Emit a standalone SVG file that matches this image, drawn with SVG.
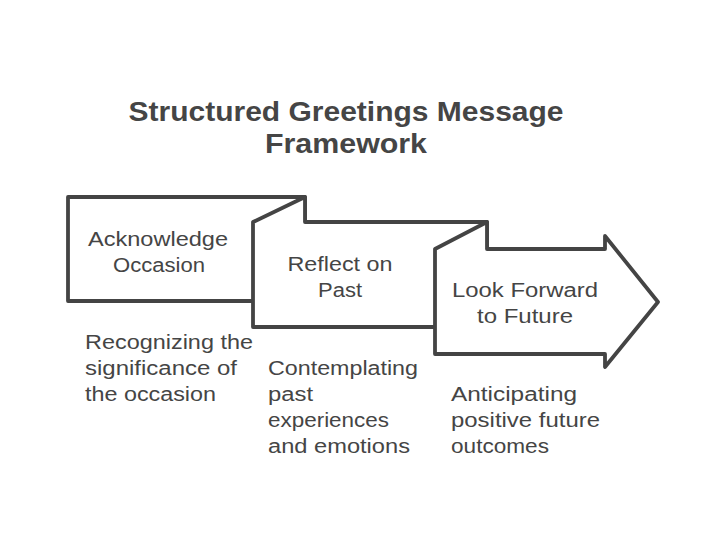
<svg xmlns="http://www.w3.org/2000/svg" width="721" height="547" viewBox="0 0 721 547">
<style>
.shape{fill:#ffffff;stroke:#444444;stroke-width:3.8;stroke-linejoin:round;stroke-linecap:round}
.title{font-family:"Liberation Sans",Arial,sans-serif;font-size:27px;font-weight:bold;fill:#454545}
.lbl{font-family:"Liberation Sans",Arial,sans-serif;font-size:20px;fill:#454545}
.desc{font-family:"Liberation Sans",Arial,sans-serif;font-size:20px;fill:#454545}
</style>
<rect width="721" height="547" fill="#ffffff"/>
<g id="title">
<text class="title" x="346" y="121" text-anchor="middle" textLength="435" lengthAdjust="spacingAndGlyphs">Structured Greetings Message</text>
<text class="title" x="346" y="153" text-anchor="middle" textLength="162" lengthAdjust="spacingAndGlyphs">Framework</text>
</g>
<g id="connectors"></g>
<g id="node1">
<path class="shape" d="M68,197 L305,197 L305,301 L68,301 Z"/>
<text class="lbl" x="158" y="246" text-anchor="middle" textLength="140" lengthAdjust="spacingAndGlyphs">Acknowledge</text>
<text class="lbl" x="159" y="272" text-anchor="middle" textLength="92" lengthAdjust="spacingAndGlyphs">Occasion</text>
<text class="desc" x="85" y="349" textLength="168" lengthAdjust="spacingAndGlyphs">Recognizing the</text>
<text class="desc" x="85" y="375" textLength="152" lengthAdjust="spacingAndGlyphs">significance of</text>
<text class="desc" x="85" y="401" textLength="131" lengthAdjust="spacingAndGlyphs">the occasion</text>
</g>
<g id="node2">
<path class="shape" d="M253,222 L305,197 L305,222 L487,222 L487,327 L253,327 Z"/>
<text class="lbl" x="340" y="271" text-anchor="middle" textLength="105" lengthAdjust="spacingAndGlyphs">Reflect on</text>
<text class="lbl" x="340" y="297" text-anchor="middle" textLength="44" lengthAdjust="spacingAndGlyphs">Past</text>
<text class="desc" x="268" y="375" textLength="150" lengthAdjust="spacingAndGlyphs">Contemplating</text>
<text class="desc" x="268" y="401" textLength="45" lengthAdjust="spacingAndGlyphs">past</text>
<text class="desc" x="268" y="427" textLength="121" lengthAdjust="spacingAndGlyphs">experiences</text>
<text class="desc" x="268" y="453" textLength="142" lengthAdjust="spacingAndGlyphs">and emotions</text>
</g>
<g id="node3">
<path class="shape" d="M435,249 L487,222 L487,249 L605,249 L605,236 L658,302 L605,367 L605,354 L435,354 Z"/>
<text class="lbl" x="525" y="297" text-anchor="middle" textLength="146" lengthAdjust="spacingAndGlyphs">Look Forward</text>
<text class="lbl" x="525" y="323" text-anchor="middle" textLength="96" lengthAdjust="spacingAndGlyphs">to Future</text>
<text class="desc" x="451" y="401" textLength="126" lengthAdjust="spacingAndGlyphs">Anticipating</text>
<text class="desc" x="451" y="427" textLength="149" lengthAdjust="spacingAndGlyphs">positive future</text>
<text class="desc" x="451" y="453" textLength="98" lengthAdjust="spacingAndGlyphs">outcomes</text>
</g>
</svg>
